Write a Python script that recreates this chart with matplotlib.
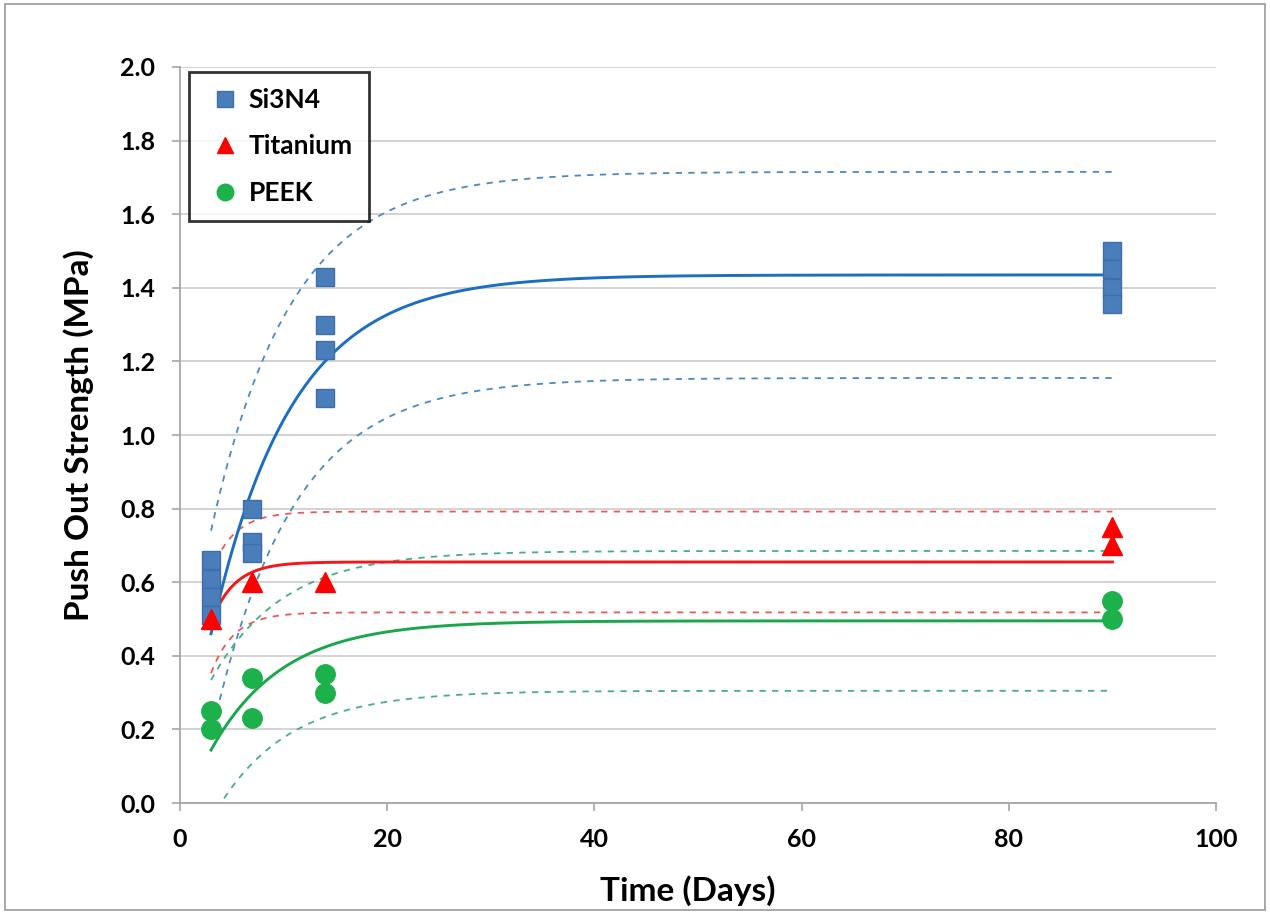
import numpy as np
import matplotlib
matplotlib.use('Agg')
import matplotlib.pyplot as plt
from matplotlib.patches import Rectangle

plt.rcParams['font.family'] = ['Lato', 'DejaVu Sans']

# 测量数据 (天, MPa)
si3n4_t = [3, 3, 3, 3, 7, 7, 7, 14, 14, 14, 14, 90, 90, 90, 90]
si3n4_y = [0.66, 0.61, 0.56, 0.51, 0.80, 0.71, 0.68, 1.43, 1.30, 1.23, 1.10, 1.50, 1.45, 1.40, 1.355]
ti_t = [3, 7, 14, 90, 90]
ti_y = [0.50, 0.60, 0.60, 0.75, 0.70]
peek_t = [3, 3, 7, 7, 14, 14, 90, 90]
peek_y = [0.25, 0.20, 0.34, 0.23, 0.35, 0.30, 0.55, 0.50]

# 拟合参数: 平台值, 第3天的值, 速率, 预测带半宽
fit_names = ['Si3N4', 'Titanium', 'PEEK']
fit_plateau = [1.435, 0.655, 0.495]
fit_start = [0.46, 0.49, 0.144]
fit_rate = [0.1294, 0.45, 0.145]
band_half = [0.28, 0.137, 0.19]

line_cols = ['#1b6ec2', '#f01818', '#1aa64a']
dash_cols = ['#4a8ac4', '#e85a5a', '#45b080']

fig = plt.figure(figsize=(12.7, 9.14), dpi=100)
ax = fig.add_axes([0.1417, 0.1214, 0.8158, 0.8053])

t = np.linspace(3, 90, 400)
for A, y0, k, d, lc, dc in zip(fit_plateau, fit_start, fit_rate, band_half, line_cols, dash_cols):
    fit = A - (A - y0) * np.exp(-k * (t - 3))
    ax.plot(t, fit, color=lc, lw=2.1, zorder=3)
    ax.plot(t, fit + d, color=dc, lw=1.3, ls=(0, (3.5, 3.5)), zorder=2)
    ax.plot(t, fit - d, color=dc, lw=1.3, ls=(0, (3.5, 3.5)), zorder=2)

ax.plot(si3n4_t, si3n4_y, 's', ms=13.5, color='#4a7ebb', mec='#3e6ea8', mew=1,
        label='Si3N4', zorder=4)
ax.plot(ti_t, ti_y, '^', ms=14, color='#ff0000', mec='#ff0000', label='Titanium', zorder=5)
ax.plot(peek_t, peek_y, 'o', ms=14, color='#1db14b', mec='#1db14b', label='PEEK', zorder=4)

ax.set_xlim(0, 100)
ax.set_ylim(0, 2.0)
ax.set_xticks(np.arange(0, 101, 20))
ax.set_yticks(np.arange(0, 2.01, 0.2))
ax.set_yticklabels(['%.1f' % v for v in np.arange(0, 2.01, 0.2)])
ax.yaxis.grid(True, color='#d0d0d0', lw=1.3)
ax.set_axisbelow(True)
for s in ['top', 'right']:
    ax.spines[s].set_visible(False)
for s in ['left', 'bottom']:
    ax.spines[s].set_color('#a6a6a6')
    ax.spines[s].set_linewidth(1.3)
ax.tick_params(axis='both', colors='#a6a6a6', length=6, width=1.2, labelsize=18, pad=12)
for lab in ax.get_xticklabels() + ax.get_yticklabels():
    lab.set_color('black')
    lab.set_fontweight('bold')

ax.set_xlabel('Time (Days)', fontsize=24, fontweight='bold')
ax.set_ylabel('Push Out Strength (MPa)', fontsize=24, fontweight='bold')
ax.xaxis.set_label_coords(0.49, -0.098)
ax.yaxis.set_label_coords(-0.083, 0.5)

leg = ax.legend(loc='upper left', bbox_to_anchor=(0.009, 0.993), frameon=True,
                fancybox=False, handletextpad=0.15, borderpad=0.6, labelspacing=0.85,
                markerscale=0.85, handlelength=1.5, borderaxespad=0,
                prop={'weight': 'bold', 'size': 19})
leg.get_frame().set_edgecolor('black')
leg.get_frame().set_linewidth(2)

fig.patches.append(Rectangle((0.004, 0.004), 0.992, 0.992, transform=fig.transFigure,
                             fill=False, edgecolor='#9a9a9a', lw=1.2))

fig.savefig('out.png', dpi=100)
